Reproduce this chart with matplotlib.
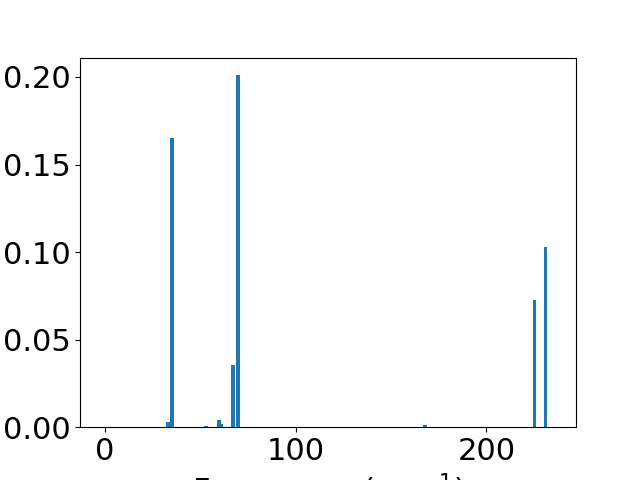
import matplotlib
matplotlib.use("Agg")
import matplotlib.pyplot as plt

# phonon modes
freqs = [33.1, 35.2, 53.0, 59.8, 61.2, 67.2, 69.8, 168.0, 225.2, 231.0]
weights = [0.003, 0.165, 0.0007, 0.004, 0.0017, 0.0354, 0.201, 0.001, 0.0726, 0.103]

plt.rcParams['font.size'] = 22

fig, ax = plt.subplots(figsize=(6.4, 4.8), dpi=100)
ax.bar(freqs, weights, width=2.0, color='#1f77b4')
ax.set_xlim(-13, 247)
ax.set_xlabel(r'Frequency (cm$^{-1}$)')

plt.savefig("out.png")
